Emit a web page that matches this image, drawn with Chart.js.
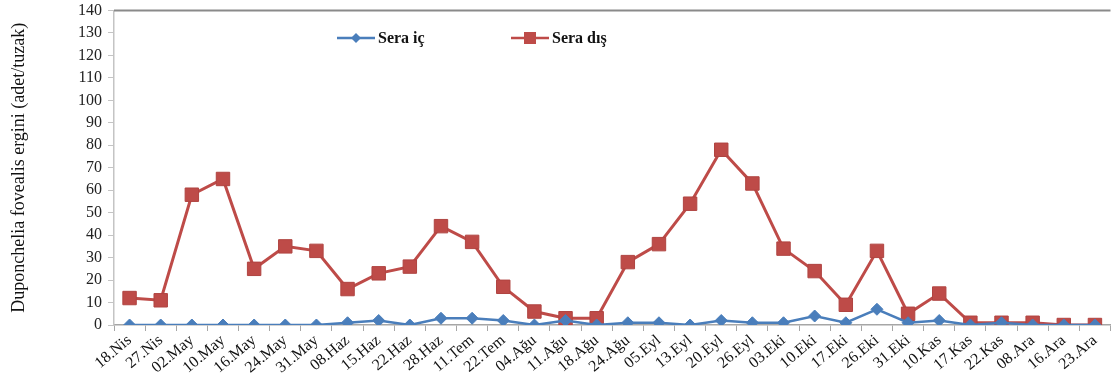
<!DOCTYPE html>
<html>
<head>
<meta charset="utf-8">
<script src="https://cdn.jsdelivr.net/npm/chart.js@4"></script>
<style>
  html, body { margin: 0; padding: 0; background: #fff; overflow: hidden; }
  #wrap { width: 1121px; height: 388px; position: relative; }
</style>
</head>
<body>
<div id="wrap"><canvas id="c"></canvas></div>
<script>
// Sampling dates
const dates = ['18.Nis','27.Nis','02.May','10.May','16.May','24.May','31.May','08.Haz','15.Haz','22.Haz',
  '28.Haz','11.Tem','22.Tem','04.Ağu','11.Ağu','18.Ağu','24.Ağu','05.Eyl','13.Eyl','20.Eyl',
  '26.Eyl','03.Eki','10.Eki','17.Eki','26.Eki','31.Eki','10.Kas','17.Kas','22.Kas','08.Ara',
  '16.Ara','23.Ara'];

// Adult counts per trap
const seraIc  = [0,0,0,0,0,0,0,1,2,0,3,3,2,0,2,0,1,1,0,2,1,1,4,1,7,1,2,0,1,0,0,0];
const seraDis = [12,11,58,65,25,35,33,16,23,26,44,37,17,6,3,3,28,36,54,78,63,34,24,9,33,5,14,1,1,1,0,0];

const seriesNames = ['Sera iç', 'Sera dış'];
const yAxisTitle = 'Duponchelia fovealis ergini (adet/tuzak)';
const yMin = 0, yMax = 140, yStep = 10;

const BLUE = '#4A7EBB';
const RED = '#BE4B48';
const SERIF = "'Liberation Serif', 'DejaVu Serif', serif";

// Top frame line of the plot area
const topFrame = {
  id: 'topFrame',
  afterDraw(chart) {
    const { ctx, chartArea } = chart;
    ctx.save();
    ctx.strokeStyle = '#8A8A8A';
    ctx.lineWidth = 2;
    ctx.beginPath();
    ctx.moveTo(chartArea.left, chartArea.top);
    ctx.lineTo(chartArea.right, chartArea.top);
    ctx.stroke();
    ctx.restore();
  }
};

// Legend drawn inside the plot, line + marker + bold label
const inlineLegend = {
  id: 'inlineLegend',
  afterDraw(chart) {
    const { ctx } = chart;
    const items = [
      { x: 337, ds: chart.data.datasets[0] },
      { x: 511, ds: chart.data.datasets[1] }
    ];
    const y = 38;
    ctx.save();
    items.forEach(({ x, ds }) => {
      ctx.strokeStyle = ds.borderColor;
      ctx.lineWidth = 2.5;
      ctx.beginPath();
      ctx.moveTo(x, y);
      ctx.lineTo(x + 38, y);
      ctx.stroke();
      const cx = x + 19;
      ctx.fillStyle = ds.pointBackgroundColor;
      if (ds.pointStyle === 'rectRot') {
        const r = 5;
        ctx.beginPath();
        ctx.moveTo(cx, y - r);
        ctx.lineTo(cx + r, y);
        ctx.lineTo(cx, y + r);
        ctx.lineTo(cx - r, y);
        ctx.closePath();
        ctx.fill();
      } else {
        const s = 6;
        ctx.fillRect(cx - s, y - s, 2 * s, 2 * s);
      }
      ctx.fillStyle = '#111';
      ctx.font = "bold 16px " + SERIF;
      ctx.textBaseline = 'middle';
      ctx.textAlign = 'left';
      ctx.fillText(ds.label, x + 41, y + 1);
    });
    ctx.restore();
  }
};

new Chart(document.getElementById('c'), {
  type: 'line',
  data: {
    labels: dates,
    datasets: [
      {
        label: seriesNames[0],
        data: seraIc,
        borderColor: BLUE,
        backgroundColor: BLUE,
        pointBackgroundColor: BLUE,
        pointBorderColor: BLUE,
        borderWidth: 2.5,
        pointStyle: 'rectRot',
        pointRadius: 6,
        pointBorderWidth: 1,
        tension: 0
      },
      {
        label: seriesNames[1],
        data: seraDis,
        borderColor: RED,
        backgroundColor: RED,
        pointBackgroundColor: RED,
        pointBorderColor: '#B04441',
        borderWidth: 3,
        pointStyle: 'rect',
        pointRadius: 9.5,
        pointBorderWidth: 1,
        tension: 0
      }
    ]
  },
  options: {
    responsive: true,
    maintainAspectRatio: false,
    animation: false,
    devicePixelRatio: 1,
    layout: { padding: 0 },
    plugins: {
      legend: { display: false },
      tooltip: { enabled: false }
    },
    scales: {
      x: {
        offset: true,
        grid: {
          offset: true,
          drawOnChartArea: false,
          color: '#A6A6A6',
          tickColor: '#A6A6A6',
          tickLength: 6
        },
        border: { color: '#A6A6A6', width: 1.5 },
        ticks: {
          autoSkip: false,
          maxRotation: 40,
          minRotation: 40,
          padding: 0,
          color: '#111',
          font: { family: SERIF, size: 16 }
        },
        afterFit(scale) {
          scale.height = 63;
          scale.paddingLeft = 0;
          scale.paddingRight = 0;
        }
      },
      y: {
        min: yMin,
        max: yMax,
        ticks: {
          stepSize: yStep,
          padding: 6,
          color: '#222',
          font: { family: SERIF, size: 16 }
        },
        grid: {
          drawOnChartArea: false,
          color: '#C4C4C4',
          tickColor: '#C4C4C4',
          tickLength: 6
        },
        border: { color: '#C4C4C4', width: 1.5 },
        title: {
          display: true,
          text: yAxisTitle,
          color: '#111',
          font: { family: SERIF, size: 18 },
          padding: { top: 8, bottom: 0 }
        },
        afterFit(scale) {
          scale.width = 114;
          scale.paddingTop = 7;
          scale.paddingBottom = 0;
        }
      }
    }
  },
  plugins: [topFrame, inlineLegend]
});
</script>
</body>
</html>
